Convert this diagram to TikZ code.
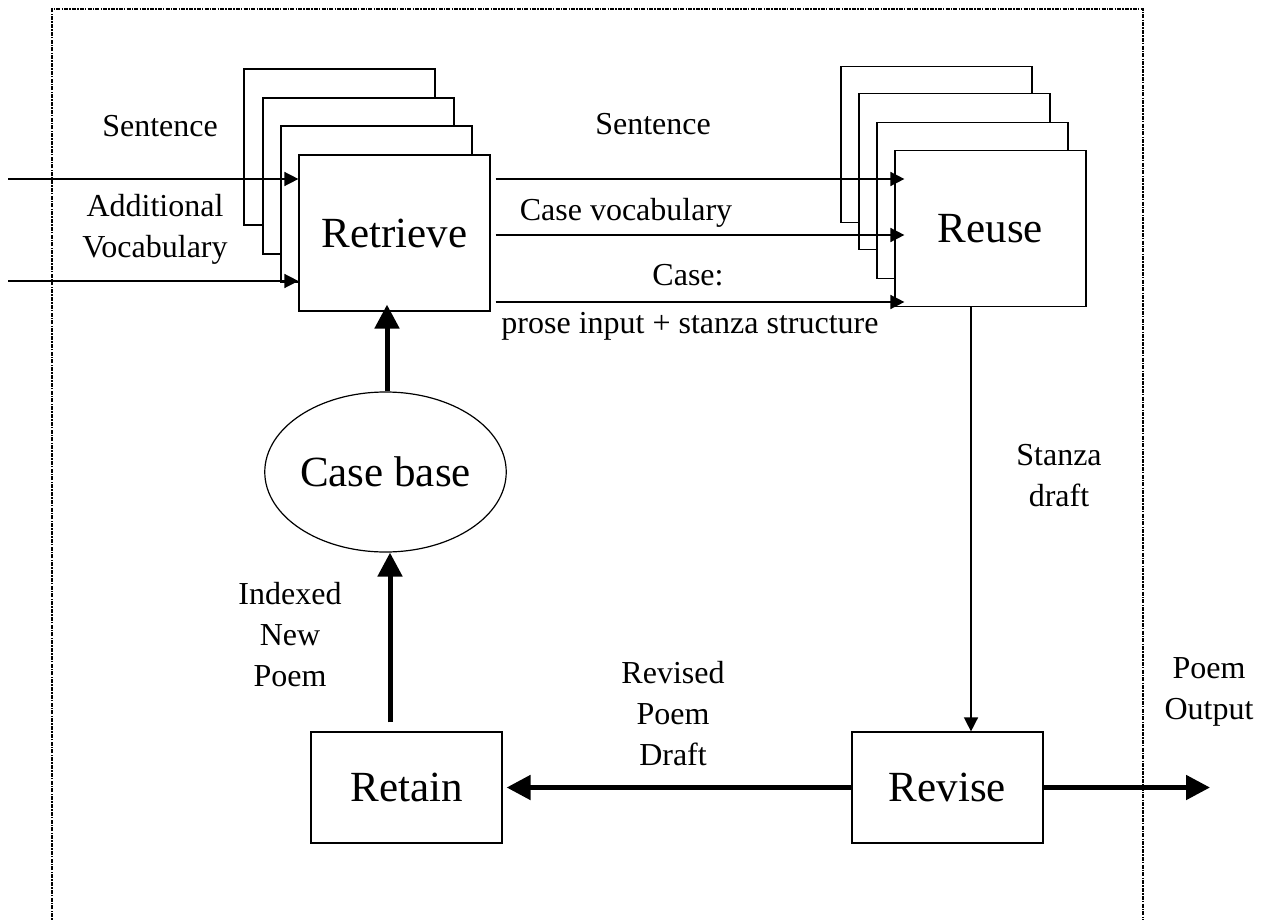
\documentclass[tikz,border=0pt]{standalone}
\usepackage{fontspec}
\setmainfont{Liberation Serif}
\usetikzlibrary{arrows.meta,shapes.geometric}
\begin{document}
\begin{tikzpicture}[x=1pt,y=-1pt,
  box/.style={draw, line width=1.2pt, fill=white, minimum width=191pt, minimum height=156pt, inner sep=0pt, font=\fontsize{43}{50}\selectfont},
  smallbox/.style={box, minimum height=111pt},
  oval/.style={ellipse, draw, line width=1.2pt, fill=white, minimum width=191pt, minimum height=160pt, inner sep=0pt, font=\fontsize{43}{50}\selectfont},
  lab/.style={font=\fontsize{32}{41}\selectfont, align=center, inner sep=0pt},
  thinarr/.style={line width=1.5pt, -{Triangle[length=14pt,width=14pt]}},
  thickarr/.style={line width=5pt, -{Triangle[length=24pt,width=24pt]}},
  frame/.style={line width=2.4pt, dash pattern=on 4pt off 1.2pt on 1.4pt off 1.2pt}
]
\useasboundingbox (0,0) rectangle (1268,920);

% Retrieve stack
\node[box] (rb1) at (339.5,147) {};
\node[box] (rb2) at (358.5,176) {};
\node[box] (rb3) at (376.5,204) {};
\node[box] (retr) at (394.5,233) {Retrieve};

% Reuse stack
\node[box] (ub1) at (936.5,144.5) {};
\node[box] (ub2) at (954.5,171.5) {};
\node[box] (ub3) at (972.5,200.5) {};
\node[box] (reuse) at (990.5,228.5) {Reuse};

% Lower nodes
\node[oval] (cb) at (385.5,472) {Case base};
\node[smallbox] (retain) at (406.5,787.5) {Retain};
\node[smallbox] (revise) at (947.5,787.5) {Revise};

% Inputs to Retrieve
\coordinate (i1) at (8,179);
\coordinate (i2) at (8,281);
\draw[thinarr] (i1) -- (i1 -| retr.west);
\draw[thinarr] (i2) -- (i2 -| retr.west);

% Retrieve -> Reuse
\path ([xshift=5pt,yshift=54pt]retr.east) coordinate (o1);
\path ([xshift=5pt,yshift=-2pt]retr.east) coordinate (o2);
\path ([xshift=5pt,yshift=-69pt]retr.east) coordinate (o3);
\draw[thinarr, shorten >=-10pt] (o1) -- (o1 -| reuse.west);
\draw[thinarr, shorten >=-10pt] (o2) -- (o2 -| reuse.west);
\draw[thinarr, shorten >=-10pt] (o3) -- (o3 -| reuse.west);

% Case base -> Retrieve
\draw[thickarr, shorten >=-7pt] ([xshift=1.5pt]cb.north) -- ([xshift=1.5pt]cb.north |- retr.south);

% Retain -> Case base
\draw[thickarr, shorten <=9pt] ([xshift=-16.5pt]retain.north) -- ([xshift=-16.5pt]retain.north |- cb.south);

% Reuse -> Revise
\draw[thinarr] ([xshift=-19.5pt]reuse.south) -- ([xshift=-19.5pt]reuse.south |- revise.north);

% Revise -> Retain
\draw[thickarr, shorten >=4pt] (revise.west) -- (retain.east);

% Revise -> output
\coordinate (out) at (1210,787.5);
\draw[thickarr] (revise.east) -- (out);

% Labels
\node[lab, anchor=base] (l1) at (160,137) {Sentence};
\node[lab] (l2) at (155,229) {Additional\\Vocabulary};
\node[lab, anchor=base] (l3) at (653,135) {Sentence};
\node[lab, anchor=base] (l4) at (626,220) {Case vocabulary};
\node[lab, anchor=base] (l5) at (688,285) {Case:};
\node[lab, anchor=base] (l6) at (690,333) {prose input + stanza structure};
\node[lab] (l7) at (1059,476) {Stanza\\draft};
\node[lab] (l8) at (1209,692) {Poem\\Output};
\node[lab] (l9) at (673,714) {Revised\\Poem\\Draft};
\node[lab] (l10) at (290,635) {Indexed\\New\\Poem};

% Dotted frame
\draw[frame] (52,925) -- (52,9) -- (1143,9) -- (1143,925);
\end{tikzpicture}
\end{document}
